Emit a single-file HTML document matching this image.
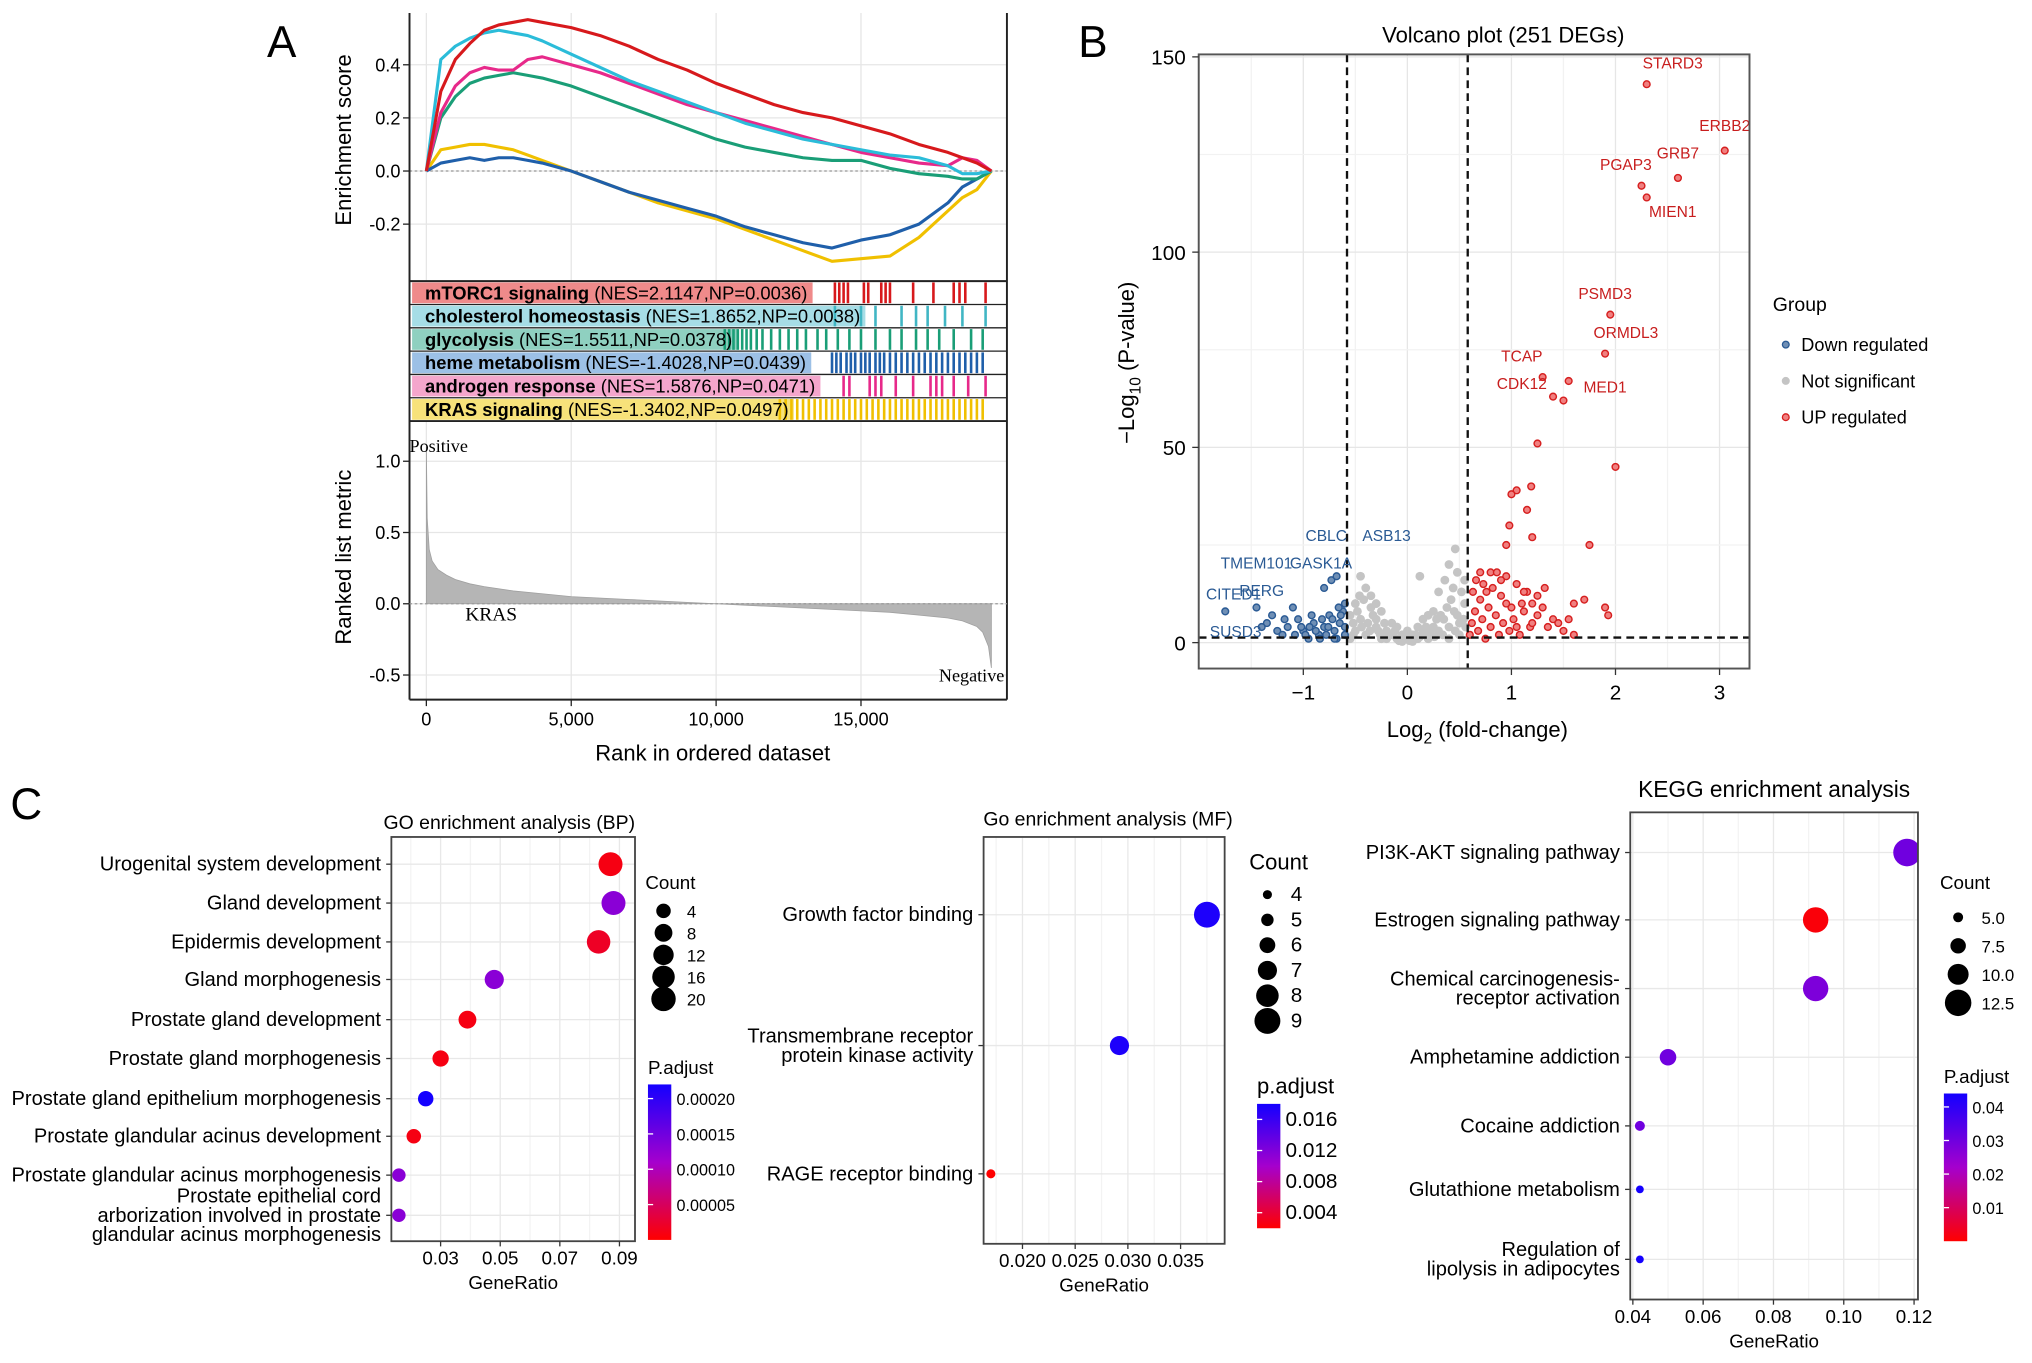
<!DOCTYPE html>
<html><head><meta charset="utf-8"><style>
html,body{margin:0;padding:0;background:#fff;}
svg{display:block;font-family:"Liberation Sans",Arial,sans-serif;}
</style></head><body>
<svg id="fig" width="2032" height="1363" viewBox="0 0 1568 1052" preserveAspectRatio="none" xmlns="http://www.w3.org/2000/svg">
<g id="panelA"></g>
<g id="panelB"></g>
<g id="panelC"></g>
</svg>
<script>
// ---------- Panel A data ----------
const esRanks = [0,500,1000,1500,2000,2500,3000,3500,4000,5000,6000,7000,8000,9000,10000,11000,12000,13000,14000,15000,16000,17000,18000,18500,19000,19500];
const esRed     = [0,0.30,0.42,0.48,0.53,0.55,0.56,0.57,0.56,0.54,0.51,0.47,0.42,0.38,0.33,0.29,0.25,0.22,0.20,0.17,0.14,0.10,0.07,0.05,0.03,0];
const esCyan    = [0,0.42,0.47,0.50,0.52,0.53,0.52,0.51,0.49,0.44,0.39,0.34,0.30,0.26,0.22,0.18,0.15,0.12,0.10,0.08,0.06,0.05,0.02,-0.01,-0.01,0];
const esMagenta = [0,0.22,0.32,0.37,0.39,0.38,0.38,0.42,0.43,0.40,0.37,0.33,0.29,0.25,0.22,0.19,0.16,0.13,0.10,0.07,0.05,0.03,0.02,0.05,0.04,0];
const esGreen   = [0,0.20,0.28,0.33,0.35,0.36,0.37,0.36,0.35,0.32,0.28,0.24,0.20,0.16,0.12,0.09,0.07,0.05,0.04,0.04,0.01,-0.01,-0.02,-0.03,-0.03,0];
const esBlue    = [0,0.03,0.04,0.05,0.04,0.05,0.05,0.04,0.03,0.00,-0.04,-0.08,-0.11,-0.14,-0.17,-0.21,-0.24,-0.27,-0.29,-0.26,-0.24,-0.20,-0.12,-0.06,-0.03,0];
const esYellow  = [0,0.08,0.09,0.10,0.10,0.09,0.08,0.06,0.04,0.00,-0.04,-0.08,-0.12,-0.15,-0.18,-0.22,-0.26,-0.30,-0.34,-0.33,-0.32,-0.25,-0.15,-0.10,-0.07,0];
const esTicks = [-0.2,0.0,0.2,0.4];
const rankTicks = [0,5000,10000,15000];
const rankTickLabels = ["0","5,000","10,000","15,000"];
const metricRanks = [0,30,100,200,400,700,1000,1500,2000,3000,4000,5000,7000,9000,10000,11000,13000,15000,16000,17000,18000,18500,19000,19200,19400,19500];
const metricVals  = [1.1,0.6,0.38,0.3,0.24,0.2,0.17,0.14,0.12,0.09,0.07,0.05,0.03,0.01,0.0,-0.01,-0.03,-0.05,-0.06,-0.08,-0.1,-0.12,-0.16,-0.2,-0.3,-0.45];
const metricTicks = [-0.5,0.0,0.5,1.0];
const setNames = ["mTORC1 signaling","cholesterol homeostasis","glycolysis","heme metabolism","androgen response","KRAS signaling"];
const setStats = [" (NES=2.1147,NP=0.0036)"," (NES=1.8652,NP=0.0038)"," (NES=1.5511,NP=0.0378)"," (NES=-1.4028,NP=0.0439)"," (NES=1.5876,NP=0.0471)"," (NES=-1.3402,NP=0.0497)"];
const setColors = ["#d7191c","#41b6c4","#1a9e77","#1f5faa","#e7298a","#f0c000"];
const setBg = ["#ef8a8a","#a6dde6","#8fd0c0","#9cc0e6","#f4a6cc","#f7e27a"];
const setHits = [
 [14100,14250,14400,14550,15100,15250,15700,15850,16000,16800,17500,18200,18400,18600,19300],
 [14100,15000,15500,16400,16900,17300,17900,18500,19300],
 [10300,10450,10600,10750,10900,11050,11200,11400,11600,11900,12200,12500,12800,13100,13500,13800,14200,14600,15000,15500,16000,16400,16900,17300,17700,18200,18800,19200],
 [14000,14150,14300,14500,14650,14800,15000,15150,15300,15500,15650,15800,16000,16200,16400,16600,16800,17000,17200,17400,17600,17800,18000,18200,18400,18600,18800,19000,19200],
 [14400,14600,15300,15500,15700,16200,16800,17400,17600,17800,18200,18700,19300],
 [12200,12400,12600,12800,13000,13200,13400,13600,13800,14000,14200,14400,14600,14800,15000,15200,15400,15600,15800,16000,16200,16400,16600,16800,17000,17200,17400,17600,17800,18000,18200,18400,18600,18800,19000,19200]
];

// ---------- Panel B data ----------
const volXTicks = [-1,0,1,2,3];
const volYTicks = [0,50,100,150];
const greyPts = [[-0.55,1],[-0.5,3],[-0.45,6],[-0.4,2],[-0.35,9],[-0.3,4],[-0.25,1],[-0.2,3],[-0.15,2],[-0.1,1],[-0.05,2],[0,1],[0.05,2],[0.1,1],[0.15,3],[0.2,2],[0.25,4],[0.3,3],[0.35,6],[0.4,4],[0.45,8],[0.5,5],[0.55,10],
 [-0.52,5],[-0.48,8],[-0.42,11],[-0.38,5],[-0.33,7],[-0.28,3],[-0.22,5],[-0.18,2],[-0.12,3],[-0.08,0.5],[-0.02,1],[0.02,0.5],[0.08,2],[0.12,1.5],[0.18,4],[0.22,3],[0.28,6],[0.32,7],[0.38,9],[0.42,11],[0.48,7],[0.52,13],[0.56,4],
 [-0.55,7],[-0.5,10],[-0.46,12],[-0.44,4],[-0.36,3],[-0.3,6],[-0.26,2],[-0.2,1],[0.2,1],[0.26,1.5],[0.34,2],[0.4,1],[0.46,3],[0.5,2],[0.54,6],[0.44,14],[0.3,13],[0.36,16],[-0.1,4],[0,3],[0.1,4],[-0.3,10],
 [-0.4,14],[-0.52,2],[0.55,16],[0.48,18],[0.4,20],[0.46,24],[-0.35,12],[0.15,6],[-0.15,5],[0.05,0.3],[-0.05,0.3],[0.25,8],[-0.25,8],[0.12,17],[0.2,7],[-0.45,17]];
const bluePts = [[-1.75,8],[-1.35,5],[-1.3,7],[-1.25,3],[-1.2,2],[-1.15,4],[-1.1,9],[-1.05,6],[-1,3],[-0.95,1],[-0.9,5],[-0.85,2],[-0.8,4],[-0.75,7],[-0.7,3],[-0.65,5],[-0.6,2],[-0.62,8],[-0.68,1],[-0.72,6],[-0.78,2],[-0.82,6],[-0.88,3],[-0.92,7],[-0.98,2],[-1.02,4],[-1.08,2],[-0.6,4],[-0.66,9],[-0.7,1],[-0.76,4],[-0.84,1],[-0.94,4],[-1.18,6],[-1.45,9],[-1.4,4],[-0.8,14],[-0.73,16],[-0.68,17],[-0.64,7],[-0.6,10]];
const redPts = [[0.6,2],[0.62,5],[0.65,8],[0.68,3],[0.7,11],[0.72,6],[0.75,1],[0.78,9],[0.8,4],[0.82,14],[0.85,7],[0.88,2],[0.9,12],[0.92,5],[0.95,17],[0.98,3],[1.0,9],[1.02,6],[1.05,15],[1.08,2],[1.1,10],[1.12,8],[1.15,13],[1.18,4],[1.2,5],[1.25,7],[1.3,9],[1.35,4],[1.4,6],[1.45,5],[1.5,3],[1.55,6],[1.6,2],[0.63,13],[0.66,16],[0.7,18],[0.73,15],[0.76,13],[0.8,18],[0.86,18],[0.9,16],[0.95,10],[1.05,4],[1.12,13],[1.2,10],[1.25,12],[1.32,14],[1.6,10],[1.7,11],[1.9,9],[1.93,7],[0.95,25],[1.2,27],[0.98,30],[1.15,34],[1.05,39],[1.19,40],[1.0,38],[1.25,51],[1.75,25],[2.0,45],
 [1.3,68],[1.4,63],[1.55,67],[1.95,84],[1.9,74],[2.25,117],[2.3,114],[2.3,143],[2.6,119],[3.05,126],[1.5,62]];
const volLabels = ["STARD3","ERBB2","GRB7","PGAP3","MIEN1","PSMD3","ORMDL3","TCAP","CDK12","MED1"];
const volLabelPos = [[2.55,147],[3.05,131],[2.6,124],[2.1,121],[2.55,109],[1.9,88],[2.1,78],[1.1,72],[1.1,65],[1.9,64]];
const blueLabels = ["CBLC","ASB13","TMEM101","GASK1A","CITED1","RERG","SUSD3"];
const blueLabelPos = [[-0.78,26],[-0.2,26],[-1.45,19],[-0.83,19],[-1.67,11],[-1.4,12],[-1.65,1.5]];

// ---------- Panel C data ----------
const bpTerms = ["Urogenital system development","Gland development","Epidermis development","Gland morphogenesis","Prostate gland development","Prostate gland morphogenesis","Prostate gland epithelium morphogenesis","Prostate glandular acinus development","Prostate glandular acinus morphogenesis","Prostate epithelial cord|arborization involved in prostate|glandular acinus morphogenesis"];
const bpRatio = [0.087,0.088,0.083,0.048,0.039,0.030,0.025,0.021,0.016,0.016];
const bpCount = [19,19,18,10,8,6,5,4,3,3];
const bpPadj  = [0.00001,0.00013,0.00002,0.00013,0.00001,0.00001,0.00022,0.00001,0.00013,0.00013];
const bpXTicks = [0.03,0.05,0.07,0.09];
const bpCountLegend = [4,8,12,16,20];
const bpPadjTicks = [0.00005,0.00010,0.00015,0.00020];

const mfTerms = ["Growth factor binding","Transmembrane receptor|protein kinase activity","RAGE receptor binding"];
const mfRatio = [0.0375,0.0292,0.0170];
const mfCount = [9,7,4];
const mfPadj  = [0.0175,0.0175,0.002];
const mfXTicks = [0.020,0.025,0.030,0.035];
const mfCountLegend = [4,5,6,7,8,9];
const mfPadjTicks = [0.004,0.008,0.012,0.016];

const kgTerms = ["PI3K-AKT signaling pathway","Estrogen signaling pathway","Chemical carcinogenesis-|receptor activation","Amphetamine addiction","Cocaine addiction","Glutathione metabolism","Regulation of|lipolysis in adipocytes"];
const kgRatio = [0.118,0.092,0.092,0.050,0.042,0.042,0.042];
const kgCount = [13,12,12,8,5,4,4];
const kgPadj  = [0.030,0.001,0.028,0.030,0.030,0.044,0.044];
const kgXTicks = [0.04,0.06,0.08,0.10,0.12];
const kgCountLegend = [5.0,7.5,10.0,12.5];
const kgPadjTicks = [0.01,0.02,0.03,0.04];

// ---------- helpers ----------
const NS="http://www.w3.org/2000/svg";
function mk(parent,tag,attrs,text){const e=document.createElementNS(NS,tag);for(const k in attrs)e.setAttribute(k,attrs[k]);if(text!==undefined)e.textContent=text;parent.appendChild(e);return e;}
function lin(d0,d1,r0,r1){return v=>r0+(v-d0)/(d1-d0)*(r1-r0);}
function gradColor(t){ t=Math.max(0,Math.min(1,t));
  let r,g,b; if(t<0.5){const u=t/0.5;r=255+(165-255)*u;g=0;b=0+(205-0)*u;}else{const u=(t-0.5)/0.5;r=165+(20-165)*u;g=0;b=205+(255-205)*u;}
  return `rgb(${r|0},${g|0},${b|0})`;}

// ---------- Panel A ----------
const A=document.getElementById('panelA');
const rx=lin(0,19500,329,765);
const esY=lin(0,0.2,132,91);
const mY=lin(0,0.5,466,411);
const lt=mk(A,'text',{x:206,y:44,'font-size':34},'A');

rankTicks.forEach(t=>{mk(A,'line',{x1:rx(t),x2:rx(t),y1:10,y2:217,stroke:'#e6e6e6','stroke-width':1});mk(A,'line',{x1:rx(t),x2:rx(t),y1:325,y2:540,stroke:'#e6e6e6','stroke-width':1});});
esTicks.forEach(t=>mk(A,'line',{x1:316,x2:777,y1:esY(t),y2:esY(t),stroke:'#e6e6e6'}));
metricTicks.forEach(t=>mk(A,'line',{x1:316,x2:777,y1:mY(t),y2:mY(t),stroke:'#e6e6e6'}));
mk(A,'line',{x1:316,x2:777,y1:esY(0),y2:esY(0),stroke:'#999','stroke-dasharray':'2,2'});
const esSeries=[esRed,esCyan,esMagenta,esGreen,esBlue,esYellow];
const esCols=["#d7191c","#2bbcd9","#e7298a","#1a9e77","#1f5faa","#f0c000"];
const esNames=['es-curve-mtorc1','es-curve-cholesterol','es-curve-androgen','es-curve-glycolysis','es-curve-heme','es-curve-kras'];
[5,4,3,2,1,0].forEach(i=>{
  const p=mk(A,'polyline',{points:esRanks.map((r,j)=>rx(r)+','+esY(esSeries[i][j])).join(' '),fill:'none',stroke:esCols[i],'stroke-width':2.4,'stroke-linejoin':'round'});
  
});
mk(A,'path',{d:'M316,10V540M777,10V540M316,217H777M316,325H777M316,540H777',stroke:'#222',fill:'none','stroke-width':1.5});
esTicks.forEach(t=>{mk(A,'line',{x1:311,x2:316,y1:esY(t),y2:esY(t),stroke:'#222'});mk(A,'text',{x:309,y:esY(t)+5,'font-size':14,'text-anchor':'end'},t.toFixed(1));});
const esT=mk(A,'text',{x:271,y:108,'font-size':17,'text-anchor':'middle',transform:'rotate(-90 271 108)'},'Enrichment score');

setNames.forEach((n,i)=>{
  const y0=217+i*18;
  const bg=mk(A,'rect',{x:318,y:y0+1,width:100,height:16,fill:setBg[i]});
  
  setHits[i].forEach(h=>mk(A,'line',{x1:rx(h),x2:rx(h),y1:y0+1,y2:y0+17,stroke:setColors[i],'stroke-width':2}));
  if(i>0) mk(A,'line',{x1:316,x2:777,y1:y0,y2:y0,stroke:'#222'});
  const t=mk(A,'text',{x:328,y:y0+14,'font-size':14.2});
  mk(t,'tspan',{'font-weight':'bold'},n);mk(t,'tspan',{},setStats[i]);
  
  let w=300; try{w=t.getComputedTextLength();}catch(e){}
  bg.setAttribute('width',w+14);
});
const area='M'+rx(0)+','+mY(0)+' '+metricRanks.map((r,j)=>'L'+rx(r)+','+mY(metricVals[j])).join(' ')+' L'+rx(19500)+','+mY(0)+'Z';
const ar=mk(A,'path',{d:area,fill:'#b5b5b5',stroke:'#a0a0a0','stroke-width':0.6});

mk(A,'line',{x1:316,x2:777,y1:mY(0),y2:mY(0),stroke:'#999','stroke-dasharray':'2,2'});
metricTicks.forEach(t=>{mk(A,'line',{x1:311,x2:316,y1:mY(t),y2:mY(t),stroke:'#222'});mk(A,'text',{x:309,y:mY(t)+5,'font-size':14,'text-anchor':'end'},t.toFixed(1));});
mk(A,'text',{x:316,y:349,'font-size':14,'font-family':'Liberation Serif'},'Positive');
mk(A,'text',{x:775,y:526,'font-size':14,'text-anchor':'end','font-family':'Liberation Serif'},'Negative');
mk(A,'text',{x:359,y:479,'font-size':15,'font-family':'Liberation Serif'},'KRAS');
const rmT=mk(A,'text',{x:271,y:430,'font-size':17,'text-anchor':'middle',transform:'rotate(-90 271 430)'},'Ranked list metric');

rankTicks.forEach((t,i)=>{mk(A,'line',{x1:rx(t),x2:rx(t),y1:540,y2:545,stroke:'#222'});mk(A,'text',{x:rx(t),y:560,'font-size':14,'text-anchor':'middle'},rankTickLabels[i]);});
const rxT=mk(A,'text',{x:550,y:587,'font-size':17,'text-anchor':'middle'},'Rank in ordered dataset');


// ---------- Panel B ----------
const B=document.getElementById('panelB');
const vx=lin(0,1,1086,1166.3), vy=lin(0,50,496,345.3);
const lb=mk(B,'text',{x:832,y:44,'font-size':34},'B');

mk(B,'text',{x:1160,y:33,'font-size':17,'text-anchor':'middle'},'Volcano plot  (251 DEGs)');
[-1.5,-1,-0.5,0,0.5,1,1.5,2,2.5,3].forEach(t=>mk(B,'line',{x1:vx(t),x2:vx(t),y1:42,y2:516,stroke:t%1===0?'#e6e6e6':'#f2f2f2'}));
[0,25,50,75,100,125,150].forEach(t=>mk(B,'line',{x1:925,x2:1350,y1:vy(t),y2:vy(t),stroke:t%50===0?'#e6e6e6':'#f2f2f2'}));
greyPts.forEach(p=>{const c=mk(B,'circle',{cx:vx(p[0]),cy:vy(p[1]),r:3.4,fill:'#c4c4c4'});});
bluePts.forEach(p=>{const c=mk(B,'circle',{cx:vx(p[0]),cy:vy(p[1]),r:2.6,fill:'#6f8fb5',stroke:'#2a5a94','stroke-width':1.1});});
redPts.forEach(p=>{const c=mk(B,'circle',{cx:vx(p[0]),cy:vy(p[1]),r:2.6,fill:'#f08080',stroke:'#d61f1f','stroke-width':1.1});});
[-0.58,0.58].forEach(t=>mk(B,'line',{x1:vx(t),x2:vx(t),y1:42,y2:516,stroke:'#111','stroke-width':1.8,'stroke-dasharray':'6,4'}));
mk(B,'line',{x1:925,x2:1350,y1:vy(1.3),y2:vy(1.3),stroke:'#111','stroke-width':1.8,'stroke-dasharray':'6,4'});
volLabels.forEach((n,i)=>{const t=mk(B,'text',{x:vx(volLabelPos[i][0]),y:vy(volLabelPos[i][1]),'font-size':12,fill:'#c81e1e','text-anchor':'middle'},n);});
blueLabels.forEach((n,i)=>{const t=mk(B,'text',{x:vx(blueLabelPos[i][0]),y:vy(blueLabelPos[i][1]),'font-size':12,fill:'#2a5a94','text-anchor':'middle'},n);});
mk(B,'rect',{x:925,y:42,width:425,height:474,fill:'none',stroke:'#555','stroke-width':1.5});
volXTicks.forEach(t=>{mk(B,'line',{x1:vx(t),x2:vx(t),y1:516,y2:521,stroke:'#333'});mk(B,'text',{x:vx(t),y:540,'font-size':16,'text-anchor':'middle'},t===-1?'\u22121':String(t));});
volYTicks.forEach(t=>{mk(B,'line',{x1:920,x2:925,y1:vy(t),y2:vy(t),stroke:'#333'});mk(B,'text',{x:915,y:vy(t)+6,'font-size':16,'text-anchor':'end'},String(t));});
const vxt=mk(B,'text',{x:1140,y:569,'font-size':17,'text-anchor':'middle'});mk(vxt,'tspan',{},'Log');mk(vxt,'tspan',{dy:5,'font-size':12},'2');mk(vxt,'tspan',{dy:-5},' (fold-change)');

const vyt=mk(B,'text',{x:875,y:280,'font-size':17,'text-anchor':'middle',transform:'rotate(-90 875 280)'});mk(vyt,'tspan',{},'\u2212Log');mk(vyt,'tspan',{dy:5,'font-size':12},'10');mk(vyt,'tspan',{dy:-5},' (P-value)');

const lg=mk(B,'g',{});
mk(lg,'text',{x:1368,y:240,'font-size':15},'Group');
[['Down regulated','#6f8fb5','#2a5a94'],['Not significant','#c4c4c4','#c4c4c4'],['UP regulated','#f08080','#d61f1f']].forEach((g,i)=>{
  mk(lg,'circle',{cx:1378,cy:266+i*28,r:2.6,fill:g[1],stroke:g[2]});mk(lg,'text',{x:1390,y:271+i*28,'font-size':14},g[0]);});

// ---------- Panel C ----------
const C=document.getElementById('panelC');
const lc=mk(C,'text',{x:8,y:632,'font-size':34},'C');

function dotplot(cfg){
  const g=mk(C,'g',{});
  const x=lin(cfg.xd[0],cfg.xd[1],cfg.xr[0],cfg.xr[1]);
  const b=cfg.box;
  mk(g,'text',{x:cfg.title[0],y:cfg.title[1],'font-size':cfg.titleSize||15,'text-anchor':'middle'},cfg.titleText);
  cfg.xTicks.forEach(t=>mk(g,'line',{x1:x(t),x2:x(t),y1:b[1],y2:b[3],stroke:'#e8e8e8'}));
  cfg.minor.forEach(t=>mk(g,'line',{x1:x(t),x2:x(t),y1:b[1],y2:b[3],stroke:'#f3f3f3'}));
  cfg.terms.forEach((t,i)=>mk(g,'line',{x1:b[0],x2:b[2],y1:cfg.rows[i],y2:cfg.rows[i],stroke:'#e8e8e8'}));
  const cid='clip'+cfg.name;
  const cd=mk(g,'defs',{});const cp=mk(cd,'clipPath',{id:cid});mk(cp,'rect',{x:b[0],y:b[1],width:b[2]-b[0],height:b[3]-b[1]});
  const dots=mk(g,'g',{'clip-path':`url(#${cid})`});
  cfg.terms.forEach((t,i)=>{
    const lines=t.split('|');const y=cfg.rows[i];
    lines.forEach((l,k)=>{const tt=mk(g,'text',{x:b[0]-8,y:y+5+(k-(lines.length-1)/2)*15,'font-size':15.5,'text-anchor':'end'},l);});
    mk(g,'line',{x1:b[0]-4,x2:b[0],y1:y,y2:y,stroke:'#333'});
    const c=mk(dots,'circle',{cx:x(cfg.ratio[i]),cy:y,r:cfg.rad(cfg.count[i]),fill:gradColor((cfg.padj[i]-cfg.pd[0])/(cfg.pd[1]-cfg.pd[0]))});
    
  });
  mk(g,'rect',{x:b[0],y:b[1],width:b[2]-b[0],height:b[3]-b[1],fill:'none',stroke:'#444','stroke-width':1.4});
  cfg.xTicks.forEach((t,i)=>{mk(g,'line',{x1:x(t),x2:x(t),y1:b[3],y2:b[3]+4,stroke:'#333'});mk(g,'text',{x:x(t),y:b[3]+18,'font-size':14.5,'text-anchor':'middle'},cfg.xLab[i]);});
  mk(g,'text',{x:(b[0]+b[2])/2,y:b[3]+37,'font-size':14.5,'text-anchor':'middle'},'GeneRatio');
  mk(g,'text',{x:cfg.leg[0],y:cfg.leg[1],'font-size':cfg.legSize||14.5},'Count');
  cfg.countLeg.forEach((v,i)=>{const yy=cfg.leg[1]+cfg.legGap*(i+1);mk(g,'circle',{cx:cfg.leg[0]+14,cy:yy,r:cfg.rad(v),fill:'#000'});mk(g,'text',{x:cfg.leg[0]+32,y:yy+5,'font-size':cfg.legSize?cfg.legSize-1:13},cfg.countLab(v));});
  const cb=cfg.cb; const gid='g'+cfg.name;
  const def=mk(g,'defs',{});const lgd=mk(def,'linearGradient',{id:gid,x1:0,y1:1,x2:0,y2:0});
  [0,0.25,0.5,0.75,1].forEach(o=>mk(lgd,'stop',{offset:o,'stop-color':gradColor(o)}));
  mk(g,'text',{x:cb[0],y:cb[1]-8,'font-size':cfg.legSize||14.5},cfg.cbTitle);
  mk(g,'rect',{x:cb[0],y:cb[1],width:18,height:cb[2],fill:`url(#${gid})`});
  const cy=lin(cfg.pd[0],cfg.pd[1],cb[1]+cb[2],cb[1]);
  cfg.pTicks.forEach(t=>{mk(g,'line',{x1:cb[0],x2:cb[0]+4,y1:cy(t),y2:cy(t),stroke:'#fff'});mk(g,'text',{x:cb[0]+22,y:cy(t)+5,'font-size':cfg.legSize?cfg.legSize-1:12.5},cfg.pLab(t));});
}
dotplot({name:'go-bp-dotplot',box:[302,646,490,958],xd:[0.03,0.09],xr:[340,478],xTicks:bpXTicks,minor:[0.02,0.04,0.06,0.08],xLab:["0.03","0.05","0.07","0.09"],
  terms:bpTerms,rows:[667,697,727,756,787,817,848,877,907,938],ratio:bpRatio,count:bpCount,padj:bpPadj,pd:[0,0.00022],
  rad:c=>2.5+Math.sqrt(c)*1.55,title:[393,640],titleText:'GO enrichment analysis (BP)',leg:[498,686],legGap:17,countLeg:bpCountLegend,countLab:v=>String(v),
  cb:[500,837,120],cbTitle:'P.adjust',pTicks:bpPadjTicks,pLab:t=>t.toFixed(5)});
dotplot({name:'go-mf-dotplot',box:[759,646,945,960],xd:[0.020,0.035],xr:[789,911],xTicks:mfXTicks,minor:[0.0175,0.0225,0.0275,0.0325,0.0375],xLab:["0.020","0.025","0.030","0.035"],
  terms:mfTerms,rows:[706,807,906],ratio:mfRatio,count:mfCount,padj:mfPadj,pd:[0.002,0.018],
  rad:c=>3.5+(c-4)*1.3,title:[855,637],titleText:'Go enrichment analysis (MF)',leg:[964,671],legGap:19.5,countLeg:mfCountLegend,countLab:v=>String(v),legSize:17,
  cb:[970,852,96],cbTitle:'p.adjust',pTicks:mfPadjTicks,pLab:t=>t.toFixed(3)});
dotplot({name:'kegg-dotplot',box:[1258,627,1480,1003],xd:[0.04,0.12],xr:[1260,1477],xTicks:kgXTicks,minor:[0.05,0.07,0.09,0.11],xLab:["0.04","0.06","0.08","0.10","0.12"],
  terms:kgTerms,rows:[658,710,763,816,869,918,972],ratio:kgRatio,count:kgCount,padj:kgPadj,pd:[0.0,0.044],
  rad:c=>3+(c-4)*0.85,title:[1369,615],titleText:'KEGG enrichment analysis',titleSize:17.5,leg:[1497,686],legGap:22,countLeg:kgCountLegend,countLab:v=>v.toFixed(1),
  cb:[1500,844,114],cbTitle:'P.adjust',pTicks:kgPadjTicks,pLab:t=>t.toFixed(2)});
</script>
</body></html>
